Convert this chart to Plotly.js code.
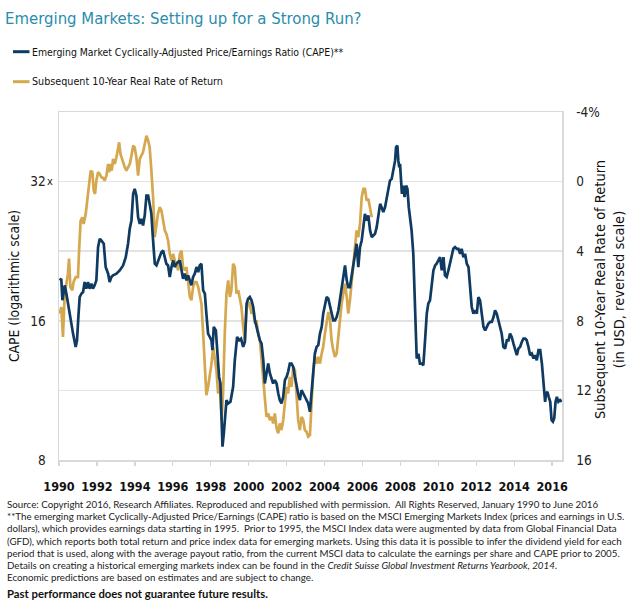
<!DOCTYPE html>
<html>
<head>
<meta charset="utf-8">
<script src="https://cdn.plot.ly/plotly-3.0.1.min.js"></script>
<style>html,body{margin:0;padding:0;background:#fff;}#chart{width:640px;height:613px;}</style>
</head>
<body>
<div id="chart"></div>
<script>
// ---- data ----
const capeYears = [1990.04,1990.12,1990.18,1990.30,1990.39,1990.47,1990.56,1990.65,1990.74,1990.88,1990.95,1991.02,1991.09,1991.18,1991.27,1991.35,1991.44,1991.53,1991.62,1991.71,1991.79,1991.88,1991.97,1992.06,1992.15,1992.23,1992.36,1992.46,1992.59,1992.67,1992.76,1992.85,1993.03,1993.20,1993.38,1993.52,1993.64,1993.73,1993.82,1993.91,1993.99,1994.08,1994.17,1994.26,1994.34,1994.43,1994.52,1994.61,1994.70,1994.78,1994.87,1994.96,1995.05,1995.14,1995.28,1995.40,1995.49,1995.58,1995.66,1995.75,1995.84,1995.93,1996.02,1996.10,1996.19,1996.37,1996.46,1996.54,1996.63,1996.72,1996.81,1996.90,1996.98,1997.07,1997.16,1997.25,1997.34,1997.42,1997.51,1997.60,1997.69,1997.77,1997.86,1997.95,1998.04,1998.09,1998.16,1998.27,1998.34,1998.44,1998.51,1998.57,1998.62,1998.69,1998.76,1998.83,1998.92,1999.04,1999.18,1999.27,1999.39,1999.50,1999.60,1999.71,1999.80,1999.89,1999.97,2000.06,2000.15,2000.24,2000.33,2000.41,2000.50,2000.59,2000.68,2000.77,2000.85,2000.94,2001.03,2001.12,2001.21,2001.29,2001.38,2001.47,2001.56,2001.64,2001.73,2001.82,2001.91,2002.00,2002.08,2002.17,2002.26,2002.35,2002.44,2002.52,2002.61,2002.70,2002.79,2002.88,2002.96,2003.05,2003.14,2003.23,
2003.32,2003.41,2003.49,2003.58,2003.67,2003.76,2003.85,2003.93,2004.02,2004.11,2004.20,2004.29,2004.37,2004.46,2004.55,2004.64,2004.73,2004.81,2004.90,2004.99,2005.08,2005.17,2005.25,2005.34,2005.43,2005.52,2005.61,2005.69,2005.78,2005.87,2005.96,2006.05,2006.13,2006.22,2006.31,2006.40,2006.49,2006.57,2006.66,2006.75,2006.84,2006.93,2007.01,2007.10,2007.19,2007.28,2007.37,2007.45,2007.54,2007.63,2007.72,
2007.77,2007.84,2007.89,2007.94,2007.98,2008.03,2008.08,2008.15,2008.22,2008.30,2008.37,2008.44,2008.51,2008.59,2008.68,2008.74,2008.79,2008.82,2008.86,2008.95,2009.03,2009.12,2009.21,2009.30,
2009.39,2009.47,2009.56,2009.65,2009.74,2009.83,2009.91,2010.00,2010.09,2010.18,2010.27,2010.35,2010.44,2010.53,2010.62,2010.71,2010.79,2010.88,2010.97,2011.06,2011.15,2011.23,2011.32,2011.41,2011.50,2011.59,2011.67,2011.76,2011.85,2011.94,2012.03,2012.11,2012.20,2012.29,2012.38,2012.47,2012.55,2012.64,2012.73,2012.82,2012.91,2012.99,2013.08,2013.17,2013.26,2013.34,2013.43,2013.52,2013.61,2013.70,2013.78,2013.87,2013.96,2014.05,2014.14,2014.22,2014.31,2014.40,2014.49,2014.58,2014.66,2014.75,2014.84,2014.93,2015.02,2015.10,2015.19,2015.28,2015.37,2015.46,2015.54,
2015.63,2015.68,2015.75,2015.82,2015.90,2015.97,2016.04,2016.11,2016.18,2016.25,2016.33,2016.42,2016.51];

const capeValues = [19.57,19.73,17.72,19.09,18.31,17.42,16.58,15.52,15.01,14.05,14.52,16.30,18.01,18.31,18.46,19.41,18.77,19.41,18.77,19.25,18.77,19.09,19.57,23.09,24.07,23.87,23.48,20.91,20.23,19.41,19.90,20.06,20.23,20.56,21.08,21.97,23.48,25.30,26.37,30.10,30.86,29.85,26.81,25.93,26.59,25.72,27.03,29.85,29.85,28.64,27.25,23.87,21.26,21.08,21.97,22.52,22.71,21.97,21.26,21.08,19.90,20.91,21.61,20.91,21.26,21.61,20.56,19.73,20.23,19.57,20.06,19.57,19.09,19.90,20.23,20.91,20.39,21.08,21.26,18.62,18.31,16.58,15.01,14.76,14.52,13.82,15.52,15.26,14.05,12.10,11.71,9.29,8.55,9.13,9.92,10.78,10.60,10.69,11.52,13.15,14.76,14.52,14.64,14.05,14.40,17.42,17.86,18.01,17.72,17.14,16.04,15.52,15.01,14.52,14.28,13.15,11.71,12.31,12.93,12.31,11.91,11.71,11.91,11.71,11.14,10.78,10.60,10.96,11.91,12.10,12.41,12.93,12.93,12.72,12.10,11.52,11.14,10.78,11.33,11.14,10.96,10.78,10.60,10.17,
11.33,12.72,13.59,14.05,14.17,15.01,15.52,16.58,17.42,18.01,17.86,17.14,16.58,16.04,16.04,16.30,16.86,17.72,18.93,19.73,21.08,19.57,18.93,18.93,19.90,20.91,21.97,23.48,20.91,23.09,23.87,25.51,27.25,26.37,27.03,25.09,24.27,24.47,24.67,25.51,27.25,28.64,28.17,27.48,28.17,29.61,30.86,32.16,32.43,34.36,35.52,
37.95,38.27,35.52,34.36,34.94,31.63,30.10,31.37,29.61,31.37,30.86,28.17,26.81,25.09,22.34,18.93,15.52,14.05,13.26,13.59,12.93,12.93,12.83,14.52,
16.58,17.42,17.72,19.09,20.56,21.08,21.26,21.61,21.97,20.56,21.97,20.06,19.90,20.56,21.26,21.97,22.90,23.09,22.90,22.90,22.34,22.90,21.97,22.34,21.26,20.91,18.93,17.14,16.58,16.86,16.58,18.01,17.72,16.58,15.52,15.26,15.52,15.78,15.91,15.91,16.30,16.86,16.58,16.04,15.65,15.01,14.05,13.93,14.52,14.52,15.01,14.76,14.28,13.82,13.48,13.93,14.05,14.40,14.64,14.64,14.52,14.05,13.48,13.59,13.26,13.48,13.15,13.82,13.82,12.93,11.91,
10.69,11.14,11.23,10.96,10.69,9.76,9.68,9.84,10.69,10.96,10.69,10.78,10.69];

const returnYears = [1990.04,1990.12,1990.21,1990.30,1990.39,1990.47,1990.53,1990.60,1990.70,1990.77,1990.88,1991.00,1991.06,1991.14,1991.23,1991.30,1991.41,1991.48,1991.55,1991.62,1991.67,1991.76,1991.83,1991.90,1991.97,1992.06,1992.15,1992.23,1992.32,1992.41,1992.50,1992.59,1992.64,1992.71,1992.78,1992.85,1992.94,1993.03,1993.11,1993.17,1993.24,1993.34,1993.47,1993.55,1993.64,1993.73,1993.82,1993.91,1993.99,1994.08,1994.17,1994.26,1994.34,1994.43,1994.52,1994.61,1994.70,1994.78,1994.87,1994.96,1995.05,1995.14,1995.22,1995.31,1995.40,1995.49,1995.58,1995.66,1995.75,1995.84,1995.93,1996.02,1996.10,1996.19,1996.28,1996.37,1996.46,1996.54,1996.63,1996.72,1996.81,1996.90,1996.98,1997.07,1997.16,1997.25,1997.34,1997.42,1997.51,1997.60,1997.69,1997.77,1997.86,1997.95,1998.04,1998.13,1998.21,1998.30,1998.39,1998.48,1998.57,1998.65,1998.74,1998.83,1998.92,1999.01,1999.09,1999.18,1999.27,1999.36,1999.45,1999.53,1999.62,1999.71,1999.80,1999.89,1999.97,2000.06,2000.15,2000.24,2000.33,2000.41,2000.50,2000.59,2000.68,2000.77,2000.85,2000.94,2001.03,2001.12,2001.21,2001.29,2001.38,2001.47,2001.56,2001.64,2001.73,2001.82,2001.91,2002.00,2002.08,2002.17,2002.26,2002.35,2002.44,2002.52,2002.61,2002.70,2002.79,2002.88,2002.96,2003.05,2003.14,2003.23,
2003.32,2003.41,2003.49,2003.58,2003.67,2003.76,2003.85,2003.93,2004.02,2004.11,2004.20,2004.29,2004.37,2004.46,2004.55,2004.64,2004.73,2004.81,2004.90,2004.99,2005.08,2005.17,2005.25,2005.34,2005.43,2005.52,2005.61,2005.69,2005.78,2005.87,2005.96,2006.05,2006.13,2006.22,2006.31,2006.40,2006.49];

const returnValues = [7.59,7.21,8.93,6.44,5.87,5.29,4.43,6.06,6.25,5.77,5.49,5.49,3.96,2.24,2.05,2.43,1.85,1.09,0.71,-0.25,-0.63,-0.54,0.52,0.71,-0.06,-0.54,-0.44,-0.25,-0.21,-0.06,-0.34,-1.01,-0.54,-1.01,-0.63,-1.30,-1.01,-1.40,-1.87,-2.26,-1.59,-1.21,-0.82,-0.63,-0.82,-1.01,-1.49,-2.07,-1.97,-1.40,-0.34,-1.30,-1.49,-1.68,-2.16,-2.64,-2.35,-1.97,-0.63,0.90,3.19,2.43,1.85,1.47,1.66,2.24,2.81,3.00,3.38,4.15,4.53,4.15,4.53,4.72,5.10,4.15,3.96,4.91,5.10,4.91,5.68,6.63,6.82,6.06,5.77,5.77,6.06,6.63,7.02,8.74,11.03,12.27,11.80,11.22,10.46,9.50,10.07,10.84,12.18,11.51,13.71,12.18,8.74,6.44,5.68,6.63,6.25,4.72,4.91,6.44,6.25,6.63,7.21,8.35,9.12,7.40,6.92,7.02,7.59,7.40,8.16,7.97,8.74,9.12,10.27,11.41,12.37,13.52,13.32,13.71,13.52,13.90,13.32,14.18,14.47,13.90,14.28,13.71,12.75,11.80,12.18,11.22,11.80,10.65,10.84,12.56,13.71,14.28,13.52,13.71,14.28,14.38,14.66,14.57,
12.56,10.84,10.07,10.46,10.07,10.46,9.88,9.50,8.74,7.97,7.49,7.97,9.12,9.69,10.07,9.88,8.74,7.78,7.02,6.44,5.87,6.63,7.59,6.82,5.87,4.72,3.77,2.81,3.19,2.43,0.90,0.42,0.42,1.09,0.99,1.47,2.05];

const yearTicks = [1990,1992,1994,1996,1998,2000,2002,2004,2006,2008,2010,2012,2014,2016];
const capeTicks = [8, 16, 32];
const capeTickText = ['8', '16', '32'];
const returnTicks = [-4, 0, 4, 8, 12, 16];
const returnTickText = ['-4%', '0', '4', '8', '12', '16'];

const seriesNames = ['Emerging Market Cyclically-Adjusted Price/Earnings Ratio (CAPE)**', 'Subsequent 10-Year Real Rate of Return'];
const rightTitle = 'Subsequent 10-Year Real Rate of Return<br>(in USD, reversed scale)';
const leftTitle = 'CAPE (logarithmic scale)';

const footLines = [
  'Source: Copyright 2016, Research Affiliates. Reproduced and republished with permission.  All Rights Reserved, January 1990 to June 2016',
  '**The emerging market Cyclically-Adjusted Price/Earnings (CAPE) ratio is based on the MSCI Emerging Markets Index (prices and earnings in U.S.',
  'dollars), which provides earnings data starting in 1995.  Prior to 1995, the MSCI Index data were augmented by data from Global Financial Data',
  '(GFD), which reports both total return and price index data for emerging markets. Using this data it is possible to infer the dividend yield for each',
  'period that is used, along with the average payout ratio, from the current MSCI data to calculate the earnings per share and CAPE prior to 2005.',
  'Details on creating a historical emerging markets index can be found in the <i>Credit Suisse Global Investment Returns Yearbook, 2014</i>.',
  'Economic predictions are based on estimates and are subject to change.'
];
const footBold = 'Past performance does not guarantee future results.';

// ---- styling / layout ----
const NAVY = '#0f3a62';
const GOLD = '#d5a84f';
const TEAL = '#2a8cac';
const NARROW = '"Liberation Sans Narrow", "DejaVu Sans Condensed", "Arial Narrow", sans-serif';
const FOOT = 'Lato, "Open Sans", sans-serif';

const PL = 59, PR = 562, PT = 112, PB = 460;
const px2x = p => (p - PL) / (PR - PL);
const py2y = p => (PB - p) / (PB - PT);

const traces = [
  { x: returnYears, y: returnValues, yaxis: 'y', type: 'scatter', mode: 'lines',
    name: seriesNames[1], line: { color: GOLD, width: 2.7 }, showlegend: false, hoverinfo: 'skip' },
  { x: capeYears, y: capeValues, yaxis: 'y2', type: 'scatter', mode: 'lines',
    name: seriesNames[0], line: { color: NAVY, width: 2.7 }, showlegend: false, hoverinfo: 'skip' }
];

const annotations = [];
const shapes = [];
// legend
[[NAVY, 51.7, seriesNames[0], 10.4], [GOLD, 81.7, seriesNames[1], 10.7]].forEach(([c, py, t, fs]) => {
  shapes.push({ type: 'line', xref: 'paper', yref: 'paper', x0: px2x(13), x1: px2x(29.5), y0: py2y(py), y1: py2y(py),
    line: { color: c, width: 3 } });
  annotations.push({ xref: 'paper', yref: 'paper', x: px2x(30), y: py2y(py), xanchor: 'left', yanchor: 'middle',
    text: t, showarrow: false, font: { family: NARROW, size: fs, color: '#111' } });
});
// "x" suffix of 32x
annotations.push({ xref: 'paper', yref: 'y2', x: px2x(44.5), y: Math.log10(32), xanchor: 'left', yanchor: 'middle',
  text: 'x', showarrow: false, font: { family: NARROW, size: 11, color: '#222' } });
// right axis title
annotations.push({ xref: 'paper', yref: 'paper', x: px2x(609), y: py2y(290), xanchor: 'center', yanchor: 'middle',
  textangle: -90, text: rightTitle, showarrow: false, font: { family: NARROW, size: 14.5, color: '#111' } });
// footnotes
const footY = [504, 516.2, 528.4, 540.6, 552.8, 565, 577.2];
footLines.forEach((t, i) => {
  annotations.push({ xref: 'paper', yref: 'paper', x: px2x(5), y: py2y(footY[i]), xanchor: 'left', yanchor: 'middle',
    text: t, showarrow: false, font: { family: FOOT, size: 9.75, color: '#222' } });
});
annotations.push({ xref: 'paper', yref: 'paper', x: px2x(5), y: py2y(593), xanchor: 'left', yanchor: 'middle',
  text: '<b>' + footBold + '</b>', showarrow: false, font: { family: FOOT, size: 11.3, color: '#111' } });

const layout = {
  width: 640, height: 613,
  margin: { l: PL, r: 640 - PR, t: PT, b: 613 - PB, pad: 0 },
  paper_bgcolor: '#fff', plot_bgcolor: '#fff',
  title: { text: 'Emerging Markets: Setting up for a Strong Run?', x: 5 / 640, xanchor: 'left', xref: 'container',
    y: 1 - 18 / 613, yref: 'container', yanchor: 'middle', font: { family: NARROW, size: 16.6, color: TEAL } },
  xaxis: { range: [1990, 2016.52], tickvals: yearTicks, ticktext: yearTicks.map(String), tickangle: 0,
    ticks: 'outside', ticklen: 4, tickcolor: '#d6d6d6', tickwidth: 1.3, ticklabelstandoff: 10,
    showline: true, linecolor: '#d9d9d9', linewidth: 1.5, mirror: true, showgrid: false, zeroline: false,
    tickfont: { family: NARROW, size: 12.5, color: '#111', weight: 'bold' } },
  yaxis: { side: 'right', range: [16, -4], tickvals: returnTicks, ticktext: returnTickText,
    showgrid: true, gridcolor: '#e3e3e3', gridwidth: 1.5, zeroline: false,
    showline: true, linecolor: '#d9d9d9', linewidth: 1.5,
    ticks: 'outside', ticklen: 10, tickcolor: 'rgba(0,0,0,0)',
    tickfont: { family: NARROW, size: 13.5, color: '#222' } },
  yaxis2: { overlaying: 'y', side: 'left', type: 'log', range: [Math.log10(8), Math.log10(45.255)],
    tickvals: capeTicks, ticktext: capeTickText, showgrid: false, zeroline: false,
    showline: true, linecolor: '#d9d9d9', linewidth: 1.5,
    ticks: 'outside', ticklen: 9, tickcolor: 'rgba(0,0,0,0)',
    tickfont: { family: NARROW, size: 13.5, color: '#222' },
    title: { text: leftTitle, standoff: 7, font: { family: NARROW, size: 13.8, color: '#111' } } },
  annotations: annotations,
  shapes: shapes,
  showlegend: false
};

Plotly.newPlot('chart', traces, layout, { displayModeBar: false, staticPlot: true });
</script>
</body>
</html>
